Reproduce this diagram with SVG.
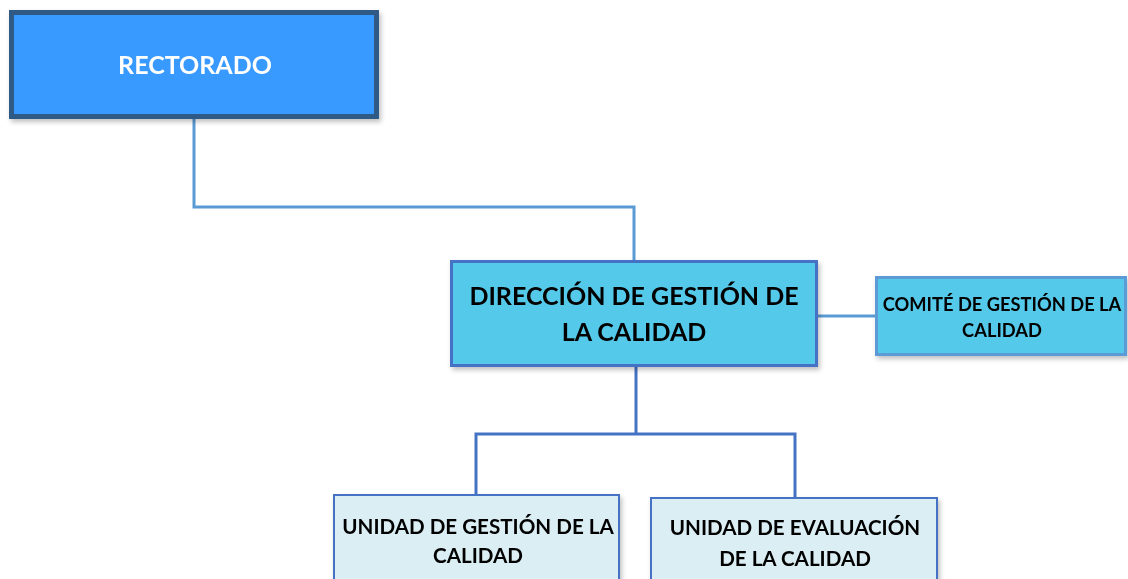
<svg xmlns="http://www.w3.org/2000/svg" width="1128" height="579" viewBox="0 0 1128 579">
<style>
.t{font-family:Lato,"Open Sans","Liberation Sans",sans-serif;font-weight:bold;text-anchor:middle}
.c{fill:none;stroke-linejoin:miter}
</style>
<defs>
<filter id="sh" x="-10%" y="-10%" width="130%" height="130%">
<feGaussianBlur in="SourceAlpha" stdDeviation="2.5"/>
<feOffset dx="2" dy="3"/>
<feComponentTransfer><feFuncA type="linear" slope="0.25"/></feComponentTransfer>
<feMerge><feMergeNode/><feMergeNode in="SourceGraphic"/></feMerge>
</filter>
</defs>
<rect width="1128" height="579" fill="#fff"/>
<g id="connectors">
<polyline class="c" points="194,119 194,207 634,207 634,261" stroke="#5b9bd5" stroke-width="3"/>
<line x1="818" y1="316" x2="876" y2="316" stroke="#5b9bd5" stroke-width="3"/>
<polyline class="c" points="636,367 636,434" stroke="#4472c4" stroke-width="3"/>
<polyline class="c" points="476,495 476,434 795,434 795,498" stroke="#4472c4" stroke-width="3"/>
</g>
<g id="rectorado" filter="url(#sh)">
<rect x="11.5" y="12.5" width="365" height="104" fill="#3899ff" stroke="#2f5a85" stroke-width="5"/>
<text class="t" x="195" y="74" font-size="25" fill="#fff">RECTORADO</text>
</g>
<g id="direccion" filter="url(#sh)">
<rect x="451.5" y="261.5" width="365" height="104" fill="#55c9e9" stroke="#4472c4" stroke-width="3"/>
<text class="t" x="634" y="305" font-size="25" fill="#000">DIRECCIÓN DE GESTIÓN DE</text>
<text class="t" x="634" y="341" font-size="25" fill="#000">LA CALIDAD</text>
</g>
<g id="comite" filter="url(#sh)">
<rect x="876.5" y="277.5" width="249" height="77" fill="#55c9e9" stroke="#5b9bd5" stroke-width="3"/>
<text class="t" x="1002" y="311" font-size="18.3" fill="#000">COMITÉ DE GESTIÓN DE LA</text>
<text class="t" x="1002" y="337" font-size="18.3" fill="#000">CALIDAD</text>
</g>
<g id="unidad-gestion" filter="url(#sh)">
<rect x="334" y="495" width="285" height="95" fill="#daeef3" stroke="#4472c4" stroke-width="2"/>
<text class="t" x="478" y="534" font-size="20.6" fill="#000">UNIDAD DE GESTIÓN DE LA</text>
<text class="t" x="478" y="563" font-size="20.6" fill="#000">CALIDAD</text>
</g>
<g id="unidad-evaluacion" filter="url(#sh)">
<rect x="651" y="498" width="286" height="95" fill="#daeef3" stroke="#4472c4" stroke-width="2"/>
<text class="t" x="795" y="535" font-size="20.6" fill="#000">UNIDAD DE EVALUACIÓN</text>
<text class="t" x="795" y="566" font-size="20.6" fill="#000">DE LA CALIDAD</text>
</g>
</svg>
